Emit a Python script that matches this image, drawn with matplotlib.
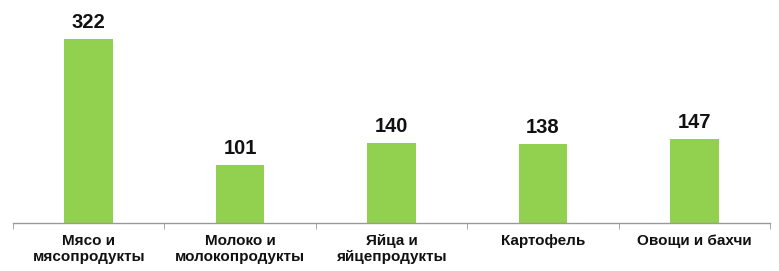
import matplotlib.pyplot as plt
import numpy as np

categories = ["Мясо и\nмясопродукты", "Молоко и\nмолокопродукты", "Яйца и\nяйцепродукты",
              "Картофель", "Овощи и бахчи"]
values = [322, 101, 140, 138, 147]

plt.rcParams['font.family'] = ['Liberation Sans', 'DejaVu Sans']

fig = plt.figure(figsize=(7.79, 2.71), dpi=100)
ax = fig.add_axes([13 / 779, 48 / 271, 757 / 779, 222 / 271])

x = np.arange(len(categories))
bars = ax.bar(x, values, width=0.32, color='#92D050')

for b, v in zip(bars, values):
    ax.annotate(str(v), (b.get_x() + b.get_width() / 2, v), xytext=(0, 5),
                textcoords='offset points', ha='center', va='bottom',
                fontsize=14.5, fontweight='bold', color='#111111')

ax.set_xlim(-0.5, len(categories) - 0.5)
ax.set_ylim(0, 388)
ax.set_xticks(x)
ax.set_xticklabels(categories, fontsize=11, fontweight='bold', color='#111111',
                   linespacing=1.2)
ax.set_xticks(np.arange(-0.5, len(categories)), minor=True)
ax.tick_params(axis='x', which='major', length=0, pad=8)
ax.tick_params(axis='x', which='minor', length=4, color='#999999', direction='out')
ax.set_yticks([])

for s in ['top', 'right', 'left']:
    ax.spines[s].set_visible(False)
ax.spines['bottom'].set_color('#999999')
ax.spines['bottom'].set_linewidth(1.0)

fig.savefig('out.png', dpi=100)
